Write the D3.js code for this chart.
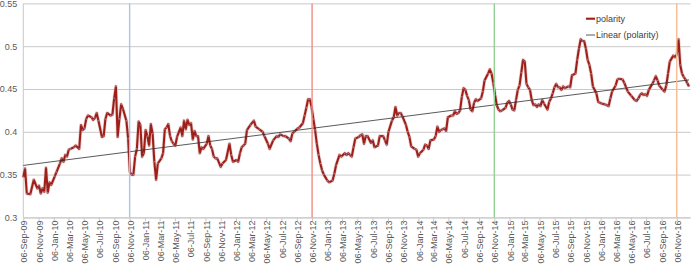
<!DOCTYPE html>
<html>
<head>
<meta charset="utf-8">
<script src="https://cdnjs.cloudflare.com/ajax/libs/d3/7.8.5/d3.min.js"></script>
<style>
  body { margin: 0; background: #fff; }
  text { font-family: "Liberation Sans", Arial, sans-serif; }
</style>
</head>
<body>
<svg id="viz"></svg>
<script>
// weekly series, first point on 06-Sep-09 (week 0)
var startDate = new Date(2009, 8, 6);

var weeks = [
  0,1,2,4,6,8,9,10,11,12,
  13,14,15,16,18,19,21,22,23,24,
  25,26,27,29,30,32,33,34,35,36,
  37,39,40,41,42,43,45,46,47,48,
  50,51,52,53,54,55,56,57,59,60,
  61,62,63,64,65,66,67,68,69,70,
  71,72,73,74,75,76,77,79,80,81,
  82,83,84,85,86,87,88,90,91,92,
  93,94,95,96,97,98,99,100,101,102,
  103,105,106,107,108,109,110,111,113,114,
  116,118,119,120,122,123,124,125,126,127,
  128,130,132,133,135,137,138,140,141,143,
  145,146,147,149,150,152,153,154,155,157,
  158,160,161,162,163,164,165,166,167,168,
  169,170,171,172,174,175,177,178,179,181,
  182,184,185,186,187,188,189,190,192,193,
  194,195,196,197,199,200,201,203,204,206,
  207,208,209,211,212,213,214,215,216,217,
  219,220,221,222,224,225,226,227,229,230,
  231,232,233,235,236,237,238,239,240,241,
  242,243,245,246,247,248,249,250,251,252,
  253,254,255,256,257,258,259,260,262,263,
  264,266,267,268,269,270,271,272,273,274,
  276,277,278,279,280,281,282,283,284,285,
  286,287,288,289,290,291,292,293,294,295,
  296,297,298,300,301,302,303,304,305,306,
  307,308,309,310,312,313,314,316,317,318,
  319,320,321,322,323,324,325,326,328,329,
  330,331,333,334,335,336,337,339,340,341,
  343,344,345,346,348,350,351,352,353,354,
  355,356,357,358,360,361,362,363,364,366,
  367,368,369,370,372,373,374,375,376,377,
  378,379,380,381
];

var polarity = [
  .347,.357,.328,.327,.344,.334,.337,.328,.334,.330,
  .358,.329,.341,.338,.348,.353,.363,.369,.365,.373,
  .371,.379,.380,.382,.384,.380,.408,.402,.404,.415,
  .419,.417,.414,.416,.422,.413,.394,.395,.415,.422,
  .419,.420,.439,.453,.394,.415,.432,.427,.413,.392,
  .353,.350,.350,.371,.380,.412,.408,.371,.375,.402,
  .395,.384,.409,.398,.365,.344,.363,.369,.375,.403,
  .405,.409,.395,.389,.386,.384,.394,.405,.395,.413,
  .403,.414,.408,.410,.391,.401,.395,.395,.375,.382,
  .380,.386,.395,.384,.380,.371,.369,.369,.359,.363,
  .367,.386,.373,.365,.367,.365,.375,.382,.384,.386,
  .402,.408,.413,.406,.403,.400,.395,.386,.380,.390,
  .395,.394,.397,.395,.395,.392,.389,.398,.400,.404,
  .405,.410,.419,.428,.438,.438,.429,.415,.402,.386,
  .373,.363,.355,.350,.343,.341,.343,.351,.361,.373,
  .371,.375,.373,.375,.373,.371,.382,.392,.394,.396,
  .397,.386,.395,.395,.387,.390,.382,.384,.395,.395,
  .390,.385,.400,.413,.417,.429,.419,.422,.422,.418,
  .408,.400,.394,.383,.380,.379,.371,.375,.379,.385,
  .384,.380,.390,.391,.395,.406,.400,.402,.403,.404,
  .401,.417,.419,.419,.424,.421,.422,.425,.441,.451,
  .449,.442,.437,.426,.424,.434,.438,.436,.439,.447,
  .460,.468,.473,.468,.457,.443,.431,.426,.424,.425,
  .428,.434,.436,.432,.426,.425,.437,.449,.454,.469,
  .484,.482,.456,.452,.449,.437,.431,.432,.429,.432,
  .430,.437,.433,.426,.435,.439,.445,.452,.456,.452,
  .452,.449,.453,.451,.453,.452,.466,.468,.484,.497,
  .508,.506,.506,.497,.484,.478,.468,.453,.445,.435,
  .434,.433,.432,.431,.430,.439,.447,.454,.461,.462,
  .461,.457,.452,.447,.442,.437,.436,.439,.443,.445,
  .443,.444,.442,.449,.456,.460,.465,.460,.454,.449,
  .447,.454,.468,.482,.489,.487,.490,.508,.478,.468,
  .464,.461,.457,.453
];

var yTickValues = [0.3, 0.35, 0.4, 0.45, 0.5, 0.55];
var markerDates = ["2010-11-06", "2012-11-06", "2014-11-06", "2016-11-06"];
var markerColors = ["#a9c5e2", "#ef8d85", "#93d093", "#f5bc90"];
var legendLabels = ["polarity", "Linear (polarity)"];

var width = 698, height = 279;
var plotLeft = 23.3, plotRight = 689, plotTop = 3.4, plotBottom = 217.4;

var svg = d3.select('#viz').attr('width', width).attr('height', height);

var parseDay = d3.timeParse('%Y-%m-%d');
var data = weeks.map(function(w, i){ return {date: d3.timeWeek.offset(startDate, w), value: polarity[i]}; });

var xScale = d3.scaleTime()
               .domain([startDate, d3.timeWeek.offset(startDate, 381)])
               .range([plotLeft, plotRight]);
var yScale = d3.scaleLinear().domain([0.3, 0.55]).range([plotBottom, plotTop]);

// gridlines + y labels
var yAxis = d3.axisLeft(yScale)
              .tickValues(yTickValues)
              .tickFormat(d3.format(''))
              .tickSize(-(plotRight + 1.5 - plotLeft))
              .tickPadding(6);
var gy = svg.append('g').attr('transform', 'translate(' + plotLeft + ',0)').call(yAxis);
gy.select('.domain').remove();
gy.selectAll('line').attr('stroke', '#c9c9c9');
gy.selectAll('text').attr('fill', '#595959').style('font-size', '9px');

svg.append('line').attr('x1', plotLeft).attr('x2', plotLeft).attr('y1', plotTop).attr('y2', plotBottom)
   .attr('stroke', '#c9c9c9');

// x axis, one tick every two months
var tickDates = d3.range(44).map(function(i){ return d3.timeMonth.offset(startDate, 2 * i); });
var xAxis = d3.axisBottom(xScale)
              .tickValues(tickDates)
              .tickFormat(d3.timeFormat('%d-%b-%y'))
              .tickSizeInner(4).tickSizeOuter(0);
var gx = svg.append('g').attr('transform', 'translate(0,' + plotBottom + ')').call(xAxis);
gx.select('.domain').attr('stroke', '#c9c9c9').attr('d', 'M' + plotLeft + ',0.5H' + (plotRight + 1.5));
gx.selectAll('line').attr('stroke', '#c9c9c9');
gx.selectAll('text')
  .attr('fill', '#595959').style('font-size', '9px')
  .attr('transform', 'rotate(-90)')
  .attr('y', 0).attr('x', -3).attr('dy', '0.4em')
  .style('text-anchor', 'end');

// polarity line
var line = d3.line().x(function(d){ return xScale(d.date); }).y(function(d){ return yScale(d.value); });

svg.append('path').datum(data)
   .attr('fill', 'none').attr('stroke', '#d8a8a8').attr('stroke-width', 3.6)
   .attr('stroke-opacity', 0.5).attr('stroke-linejoin', 'round').attr('d', line);
svg.append('path').datum(data)
   .attr('fill', 'none').attr('stroke', '#9e1f17').attr('stroke-width', 2.1)
   .attr('stroke-linejoin', 'round').attr('d', line);
svg.append('g').selectAll('circle').data(data).enter().append('circle')
   .attr('cx', function(d){ return xScale(d.date); })
   .attr('cy', function(d){ return yScale(d.value); })
   .attr('r', 0.8).attr('fill', '#a79cc4').attr('opacity', 0.7);

// linear trend (least squares)
var xs = data.map(function(d){ return +d.date; });
var ys = data.map(function(d){ return d.value; });
var mx = d3.mean(xs), my = d3.mean(ys);
var slope = d3.sum(xs, function(v, i){ return (v - mx) * (ys[i] - my); }) /
            d3.sum(xs, function(v){ return (v - mx) * (v - mx); });
var x0 = xScale.domain()[0], x1 = xScale.domain()[1];
svg.append('line')
   .attr('x1', xScale(x0)).attr('y1', yScale(my + slope * (+x0 - mx)))
   .attr('x2', xScale(x1)).attr('y2', yScale(my + slope * (+x1 - mx)))
   .attr('stroke', '#303030').attr('stroke-width', 0.8);

// vertical markers
svg.append('g').selectAll('line').data(markerDates).enter().append('line')
   .attr('x1', function(d){ return xScale(parseDay(d)); })
   .attr('x2', function(d){ return xScale(parseDay(d)); })
   .attr('y1', plotTop).attr('y2', plotBottom)
   .attr('stroke', function(d, i){ return markerColors[i]; })
   .attr('stroke-width', 1.4);

// legend
var lg = svg.append('g').attr('transform', 'translate(586,0)');
lg.append('line').attr('x1', 0).attr('x2', 9).attr('y1', 18.7).attr('y2', 18.7)
  .attr('stroke', '#9e1f17').attr('stroke-width', 2.1);
lg.append('line').attr('x1', 0).attr('x2', 9).attr('y1', 35).attr('y2', 35)
  .attr('stroke', '#303030').attr('stroke-width', 0.8);
lg.selectAll('text').data(legendLabels).enter().append('text')
  .attr('x', 10).attr('y', function(d, i){ return i ? 35 : 18.7; })
  .attr('dy', '0.35em').attr('fill', '#404040').style('font-size', '9px')
  .text(function(d){ return d; });
</script>
</body>
</html>
